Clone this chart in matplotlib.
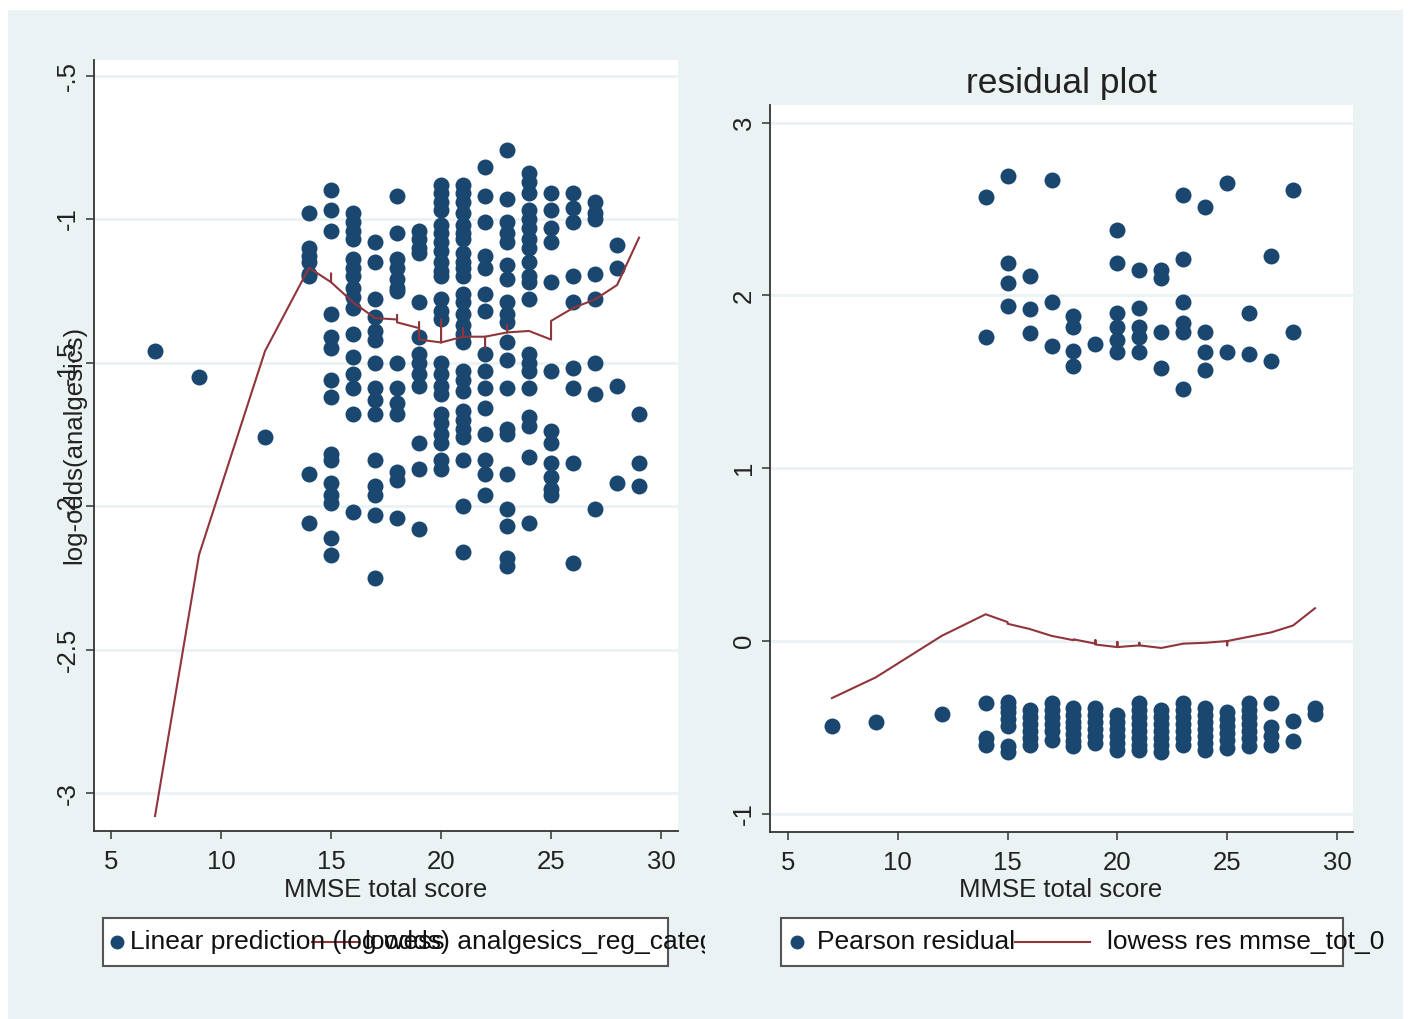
import matplotlib
matplotlib.use("Agg")
import matplotlib.pyplot as plt
from matplotlib.patches import Rectangle
from matplotlib.lines import Line2D
from matplotlib.transforms import Bbox, TransformedBbox

plt.rcParams['font.family'] = ['Liberation Sans', 'DejaVu Sans']

# linear prediction (log odds) by MMSE total score
lp_scores = [7, 9, 12, 14, 15, 16, 17, 18, 19, 20, 21, 22, 23, 24, 25, 26, 27, 28, 29]
lp_07 = [-1.46]
lp_09 = [-1.55]
lp_12 = [-1.76]
lp_14 = [-0.98, -1.10, -1.13, -1.15, -1.19, -1.20, -1.89, -2.06]
lp_15 = [-0.90, -0.97, -1.04, -1.33, -1.41, -1.45, -1.56, -1.62, -1.82, -1.84,
         -1.92, -1.96, -1.99, -2.11, -2.17]
lp_16 = [-0.98, -1.01, -1.04, -1.07, -1.14, -1.17, -1.20, -1.24, -1.27, -1.31,
         -1.40, -1.48, -1.54, -1.59, -1.68, -2.02]
lp_17 = [-1.08, -1.15, -1.28, -1.34, -1.39, -1.42, -1.50, -1.59, -1.63, -1.68,
         -1.84, -1.93, -1.96, -2.03, -2.25]
lp_18 = [-0.92, -1.05, -1.14, -1.17, -1.21, -1.24, -1.25, -1.50, -1.59, -1.64,
         -1.68, -1.88, -1.91, -2.04]
lp_19 = [-1.04, -1.07, -1.10, -1.12, -1.29, -1.41, -1.47, -1.50, -1.54, -1.58,
         -1.78, -1.87, -2.08]
lp_20 = [-0.88, -0.91, -0.94, -0.97, -1.02, -1.05, -1.08, -1.11, -1.15, -1.18,
         -1.20, -1.28, -1.32, -1.35, -1.50, -1.54, -1.58, -1.61, -1.68, -1.71,
         -1.75, -1.78, -1.84, -1.87]
lp_21 = [-0.88, -0.91, -0.94, -0.98, -1.02, -1.05, -1.07, -1.12, -1.15, -1.17,
         -1.20, -1.26, -1.29, -1.33, -1.37, -1.40, -1.43, -1.53, -1.56, -1.60,
         -1.67, -1.70, -1.73, -1.76, -1.84, -2.00, -2.16]
lp_22 = [-0.82, -0.92, -1.01, -1.13, -1.17, -1.26, -1.32, -1.47, -1.53, -1.59,
         -1.66, -1.75, -1.84, -1.89, -1.96]
lp_23 = [-0.76, -0.93, -1.01, -1.05, -1.08, -1.16, -1.21, -1.29, -1.33, -1.36,
         -1.43, -1.49, -1.59, -1.73, -1.75, -1.89, -2.01, -2.07, -2.18, -2.21]
lp_24 = [-0.84, -0.87, -0.91, -0.97, -1.00, -1.03, -1.07, -1.10, -1.15, -1.20,
         -1.22, -1.28, -1.47, -1.50, -1.53, -1.59, -1.69, -1.72, -1.83, -2.06]
lp_25 = [-0.91, -0.97, -1.03, -1.08, -1.22, -1.53, -1.74, -1.78, -1.85, -1.90,
         -1.94, -1.96]
lp_26 = [-0.91, -0.96, -1.01, -1.20, -1.29, -1.52, -1.59, -1.85, -2.20]
lp_27 = [-0.94, -0.98, -1.00, -1.19, -1.28, -1.50, -1.61, -2.01]
lp_28 = [-1.09, -1.17, -1.58, -1.92]
lp_29 = [-1.68, -1.85, -1.93]
lp_values = [lp_07, lp_09, lp_12, lp_14, lp_15, lp_16, lp_17, lp_18, lp_19, lp_20,
             lp_21, lp_22, lp_23, lp_24, lp_25, lp_26, lp_27, lp_28, lp_29]

# lowess of the linear prediction (repeated scores give the little spikes)
lw_lp_x = [7, 9, 12, 14, 15, 15, 15, 16, 17, 18, 18, 18, 19, 19, 19, 20, 20, 20,
           21, 21, 21, 22, 22, 22, 23, 23, 23, 24, 25, 25, 26, 27, 28, 29]
lw_lp_y = [-3.08, -2.17, -1.46, -1.17, -1.22, -1.19, -1.22, -1.29, -1.345, -1.35,
           -1.335, -1.36, -1.38, -1.36, -1.42, -1.43, -1.35, -1.43, -1.41, -1.38,
           -1.41, -1.41, -1.45, -1.41, -1.395, -1.37, -1.395, -1.39, -1.42, -1.355,
           -1.31, -1.28, -1.23, -1.065]

# Pearson residuals by MMSE total score
res_scores = lp_scores
res_07 = [-0.49]
res_09 = [-0.47]
res_12 = [-0.42]
res_14 = [2.57, 1.76, -0.36, -0.56, -0.60]
res_15 = [2.69, 2.19, 2.07, 1.94, -0.35, -0.38, -0.41, -0.45, -0.49, -0.61, -0.64]
res_16 = [2.11, 1.92, 1.78, -0.40, -0.44, -0.48, -0.52, -0.56, -0.60]
res_17 = [2.67, 1.96, 1.71, -0.36, -0.40, -0.44, -0.48, -0.52, -0.57]
res_18 = [1.88, 1.82, 1.68, 1.59, -0.39, -0.43, -0.47, -0.50, -0.54, -0.58, -0.61]
res_19 = [1.72, -0.39, -0.43, -0.47, -0.51, -0.55, -0.59]
res_20 = [2.38, 2.19, 1.90, 1.82, 1.74, 1.67, -0.43, -0.47, -0.51, -0.55, -0.59, -0.63]
res_21 = [2.15, 1.93, 1.82, 1.76, 1.67, -0.36, -0.40, -0.44, -0.48, -0.52, -0.56,
          -0.60, -0.63]
res_22 = [2.15, 2.10, 1.79, 1.58, -0.40, -0.44, -0.48, -0.52, -0.56, -0.60, -0.64]
res_23 = [2.58, 2.21, 1.96, 1.84, 1.79, 1.46, -0.36, -0.40, -0.44, -0.48, -0.52,
          -0.56, -0.60]
res_24 = [2.51, 1.79, 1.67, 1.57, -0.39, -0.43, -0.47, -0.51, -0.55, -0.59, -0.63]
res_25 = [2.65, 1.67, -0.41, -0.45, -0.49, -0.53, -0.57, -0.62]
res_26 = [1.90, 1.66, -0.36, -0.40, -0.44, -0.48, -0.52, -0.56, -0.61]
res_27 = [2.23, 1.62, -0.36, -0.50, -0.55, -0.60]
res_28 = [2.61, 1.79, -0.46, -0.58]
res_29 = [-0.39, -0.42]
res_values = [res_07, res_09, res_12, res_14, res_15, res_16, res_17, res_18, res_19,
              res_20, res_21, res_22, res_23, res_24, res_25, res_26, res_27, res_28,
              res_29]

# lowess of the residuals
lw_res_x = [7, 9, 12, 14, 15, 15, 16, 17, 18, 18, 19, 19, 19, 20, 20, 20, 21, 21, 21,
            22, 23, 24, 25, 25, 25, 26, 27, 28, 29]
lw_res_y = [-0.33, -0.21, 0.03, 0.155, 0.11, 0.10, 0.07, 0.03, 0.005, 0.01, -0.015,
            0.005, -0.02, -0.035, -0.005, -0.035, -0.025, -0.01, -0.025, -0.04,
            -0.015, -0.01, 0.0, -0.025, 0.0, 0.025, 0.05, 0.09, 0.19]

NAVY = '#1a476f'
MAROON = '#90353b'
BG = '#eaf2f3'
FS = 18.5
LFS = 19
W, H = 1409, 1019

fig = plt.figure(figsize=(W / 100, H / 100), dpi=100)
fig.patch.set_facecolor('white')
fig.add_artist(Rectangle((8 / W, 0), 1395 / W, 1 - 10 / H, transform=fig.transFigure,
                         facecolor=BG, edgecolor='none', zorder=-10))


def fx(x):
    return x / W


def fy(y):
    return 1 - y / H


def make_axes(left, right, top, bottom):
    ax = fig.add_axes([fx(left), fy(bottom), fx(right - left), (bottom - top) / H])
    ax.set_facecolor('white')
    for s in ('top', 'right'):
        ax.spines[s].set_visible(False)
    for s in ('left', 'bottom'):
        ax.spines[s].set_color('#333333')
        ax.spines[s].set_linewidth(1.3)
    ax.tick_params(length=6, width=1.1, color='#333333', labelsize=FS, labelcolor='#222222')
    ax.tick_params(axis='y', labelrotation=90, pad=4)
    ax.tick_params(axis='x', pad=8)
    ax.set_axisbelow(True)
    ax.yaxis.grid(True, color=BG, lw=2)
    return ax


def fmt(v):
    s = ('%g' % v)
    return s.replace('0.', '.')


# left panel: linear prediction
ax1 = make_axes(94, 678, 60, 831)
for sc, vals in zip(lp_scores, lp_values):
    ax1.plot([sc] * len(vals), vals, 'o', color=NAVY, ms=11.5, mec='none', zorder=3)
ax1.plot(lw_lp_x, lw_lp_y, color=MAROON, lw=1.5, zorder=4)
ax1.set_xlim(4.227, 30.77)
ax1.set_ylim(-3.132, -0.446)
ax1.set_xticks([5, 10, 15, 20, 25, 30])
yt1 = [-3, -2.5, -2, -1.5, -1, -0.5]
ax1.set_yticks(yt1)
ax1.set_yticklabels([fmt(v) for v in yt1], va='center')

# right panel: residuals
ax2 = make_axes(770, 1353, 105, 832)
for sc, vals in zip(res_scores, res_values):
    ax2.plot([sc] * len(vals), vals, 'o', color=NAVY, ms=11.5, mec='none', zorder=3)
ax2.plot(lw_res_x, lw_res_y, color=MAROON, lw=1.5, zorder=4)
ax2.set_xlim(4.18, 30.73)
ax2.set_ylim(-1.105, 3.102)
ax2.set_xticks([5, 10, 15, 20, 25, 30])
yt2 = [-1, 0, 1, 2, 3]
ax2.set_yticks(yt2)
ax2.set_yticklabels([fmt(v) for v in yt2], va='center')

# titles and axis labels
fig.text(fx(1062), fy(83), 'residual plot', fontsize=25.5, ha='center', va='center',
         color='#222222')
fig.text(fx(386), fy(890), 'MMSE total score', fontsize=FS, ha='center', va='center',
         color='#222222')
fig.text(fx(1061), fy(890), 'MMSE total score', fontsize=FS, ha='center', va='center',
         color='#222222')
fig.text(fx(74), fy(445), 'log-odds(analgesics)', fontsize=FS, ha='center', va='center',
         rotation=90, color='#222222')

# legend boxes
for x0, x1 in ((103, 668), (781, 1343)):
    fig.add_artist(Rectangle((fx(x0), fy(966)), fx(x1 - x0), 48 / H,
                             transform=fig.transFigure, facecolor='white',
                             edgecolor='#555555', lw=1.5, zorder=1))

ly = fy(942)
fig.add_artist(Line2D([fx(117)], [ly], marker='o', ms=10, color=NAVY, mec='none',
                      transform=fig.transFigure, zorder=2))
t = fig.text(fx(130), ly, 'Linear prediction (log odds) analgesics_reg_categ',
             fontsize=LFS, ha='left', va='center', color='#111111', zorder=3)
t.set_clip_on(True)
t.set_clip_box(TransformedBbox(Bbox([[0, 0], [fx(705), 1]]), fig.transFigure))
fig.add_artist(Line2D([fx(312), fx(358)], [ly, ly], color=MAROON, lw=1.5,
                      transform=fig.transFigure, zorder=2))
fig.text(fx(364), ly, 'lowess', fontsize=LFS, ha='left', va='center', color='#111111',
         zorder=3)

fig.add_artist(Line2D([fx(797)], [ly], marker='o', ms=10, color=NAVY, mec='none',
                      transform=fig.transFigure, zorder=2))
fig.text(fx(817), ly, 'Pearson residual', fontsize=LFS, ha='left', va='center',
         color='#111111', zorder=3)
fig.add_artist(Line2D([fx(1015), fx(1090)], [ly, ly], color=MAROON, lw=1.5,
                      transform=fig.transFigure, zorder=2))
fig.text(fx(1107), ly, 'lowess res mmse_tot_0', fontsize=LFS, ha='left', va='center',
         color='#111111', zorder=3)

fig.savefig('out.png', dpi=100, facecolor=fig.get_facecolor())
